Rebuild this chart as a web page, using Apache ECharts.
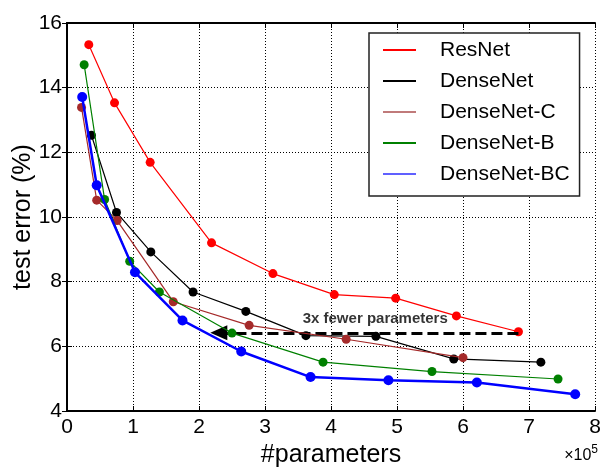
<!DOCTYPE html>
<html>
<head>
<meta charset="utf-8">
<script src="https://cdn.jsdelivr.net/npm/echarts@6/dist/echarts.min.js"></script>
<style>html,body{margin:0;padding:0;background:#fff}#c{width:600px;height:468px}</style>
</head>
<body>
<div id="c"></div>
<script>
// x values in units of 1e5 parameters, y = test error (%)
var resnetX = [0.33, 0.72, 1.26, 2.19, 3.12, 4.05, 4.98, 5.90, 6.84];
var resnetY = [15.33, 13.53, 11.69, 9.20, 8.25, 7.60, 7.49, 6.94, 6.45];
var densenetX = [0.37, 0.75, 1.27, 1.91, 2.71, 3.62, 4.68, 5.86, 7.18];
var densenetY = [12.53, 10.14, 8.92, 7.68, 7.08, 6.33, 6.31, 5.61, 5.51];
var densenetCX = [0.22, 0.45, 0.76, 1.61, 2.76, 4.23, 6.00];
var densenetCY = [13.39, 10.52, 9.89, 7.38, 6.65, 6.22, 5.65];
var densenetBX = [0.26, 0.57, 0.95, 1.40, 2.50, 3.88, 5.53, 7.44];
var densenetBY = [14.71, 10.54, 8.63, 7.68, 6.41, 5.51, 5.22, 4.99];
var densenetBCX = [0.23, 0.45, 1.03, 1.75, 2.64, 3.69, 4.87, 6.21, 7.70];
var densenetBCY = [13.71, 10.98, 8.29, 6.80, 5.84, 5.05, 4.95, 4.88, 4.52];
var seriesNames = ['ResNet', 'DenseNet', 'DenseNet-C', 'DenseNet-B', 'DenseNet-BC'];
var xTicks = [0, 1, 2, 3, 4, 5, 6, 7, 8];
var yTicks = [4, 6, 8, 10, 12, 14, 16];
var arrowStart = [6.84, 6.42];
var arrowEnd = [2.30, 6.42];
var annotationText = '3x fewer parameters';
var annotationPos = [4.67, 6.84];

function pairs(xs, ys) { return xs.map(function (x, i) { return [x, ys[i]]; }); }

var FONT = 'Liberation Sans, Arial, Helvetica, sans-serif';
var colors = ['#ff0000', '#000000', '#a52a2a', '#008000', '#0000ff'];
var legendColors = ['#ff0000', '#000000', '#c07a7a', '#008000', '#6060ff'];
var widths = [1.2, 1.2, 1.2, 1.2, 2.5];
var sizes = [9, 9, 9, 9, 10];
var datasets = [pairs(resnetX, resnetY), pairs(densenetX, densenetY), pairs(densenetCX, densenetCY), pairs(densenetBX, densenetBY), pairs(densenetBCX, densenetBCY)];

var series = seriesNames.map(function (n, i) {
  return {
    name: n, type: 'line', data: datasets[i], xAxisIndex: 0, yAxisIndex: 0,
    symbol: 'circle', symbolSize: sizes[i], showSymbol: true,
    lineStyle: { color: colors[i], width: widths[i] },
    itemStyle: { color: colors[i] },
    z: 3 + i, animation: false
  };
});

series.push({
  name: 'arrow', type: 'line', data: [], xAxisIndex: 0, yAxisIndex: 0, animation: false,
  markLine: {
    silent: true, animation: false,
    symbol: ['none', 'triangle'], symbolSize: [15, 17],
    lineStyle: { color: '#000', width: 3, type: [11, 5] },
    label: { show: false },
    data: [[{ coord: arrowStart }, { coord: arrowEnd }]]
  }
});
series.push({
  name: 'annotation', type: 'scatter', data: [annotationPos], xAxisIndex: 0, yAxisIndex: 0,
  symbolSize: 2, itemStyle: { color: 'rgba(0,0,0,0)' }, silent: true, animation: false, z: 20,
  label: { show: true, position: 'inside', formatter: annotationText, color: '#000', textBorderWidth: 0, fontFamily: FONT, fontWeight: 'bold', fontSize: 15 }
});

var tickLabelStyle = { color: '#000', fontSize: 21, fontFamily: FONT };
var chart = echarts.init(document.getElementById('c'), null, { renderer: 'canvas' });
chart.setOption({
  backgroundColor: '#fff',
  animation: false,
  grid: { left: 67, right: 5, top: 23, bottom: 57, show: false, containLabel: false, outerBoundsMode: 'none' },
  legend: {
    data: seriesNames.map(function (n, i) { return { name: n, itemStyle: { color: legendColors[i] } }; }),
    orient: 'vertical', left: 369, top: 33,
    icon: 'rect', itemWidth: 33, itemHeight: 2, itemGap: 7,
    padding: [5, 10, 10, 14],
    backgroundColor: '#fff', borderColor: '#222', borderWidth: 1.5,
    textStyle: { color: '#000', fontSize: 21, fontFamily: FONT, lineHeight: 24, padding: [0, 0, 0, 19] }
  },
  xAxis: [{
    type: 'value', min: 0, max: 8, interval: 1, position: 'bottom',
    name: '#parameters', nameLocation: 'middle', nameGap: 44, nameMoveOverlap: false,
    nameTextStyle: { color: '#000', fontSize: 25, fontFamily: FONT, verticalAlign: 'middle' },
    axisLine: { show: true, lineStyle: { color: '#000', width: 2 } },
    axisTick: { show: true, inside: true, length: 5, lineStyle: { color: '#000' } },
    axisLabel: Object.assign({ margin: 6, formatter: function (v) { return xTicks.indexOf(v) >= 0 ? String(v) : ''; } }, tickLabelStyle),
    splitLine: { show: true, lineStyle: { color: '#000', type: [1, 2], width: 1 } }
  }, {
    type: 'value', min: 0, max: 8, interval: 1, position: 'top',
    axisLine: { show: true, lineStyle: { color: '#000', width: 2 } },
    axisTick: { show: true, inside: true, length: 5, lineStyle: { color: '#000' } },
    axisLabel: { show: false }, splitLine: { show: false }
  }],
  yAxis: [{
    type: 'value', min: 4, max: 16, interval: 2, position: 'left',
    name: 'test error (%)', nameLocation: 'middle', nameGap: 44, nameRotate: 90, nameMoveOverlap: false,
    nameTextStyle: { color: '#000', fontSize: 25, fontFamily: FONT, verticalAlign: 'middle' },
    axisLine: { show: true, lineStyle: { color: '#000', width: 2 } },
    axisTick: { show: true, inside: true, length: 5, lineStyle: { color: '#000' } },
    axisLabel: Object.assign({ margin: 5, formatter: function (v) { return yTicks.indexOf(v) >= 0 ? String(v) : ''; } }, tickLabelStyle),
    splitLine: { show: true, lineStyle: { color: '#000', type: [1, 2], width: 1 } }
  }, {
    type: 'value', min: 4, max: 16, interval: 2, position: 'right',
    axisLine: { show: true, lineStyle: { color: '#000', width: 2 } },
    axisTick: { show: true, inside: true, length: 5, lineStyle: { color: '#000' } },
    axisLabel: { show: false }, splitLine: { show: false }
  }],
  graphic: [{
    type: 'text', right: 2, top: 444,
    style: {
      text: '{a|×10}{b|5}', fill: '#000',
      rich: {
        a: { fontSize: 16, fontFamily: FONT, fill: '#000', verticalAlign: 'bottom', lineHeight: 20 },
        b: { fontSize: 12, fontFamily: FONT, fill: '#000', verticalAlign: 'top', lineHeight: 20, padding: [0, 0, 8, 0] }
      }
    }
  }],
  series: series
});
</script>
</body>
</html>
